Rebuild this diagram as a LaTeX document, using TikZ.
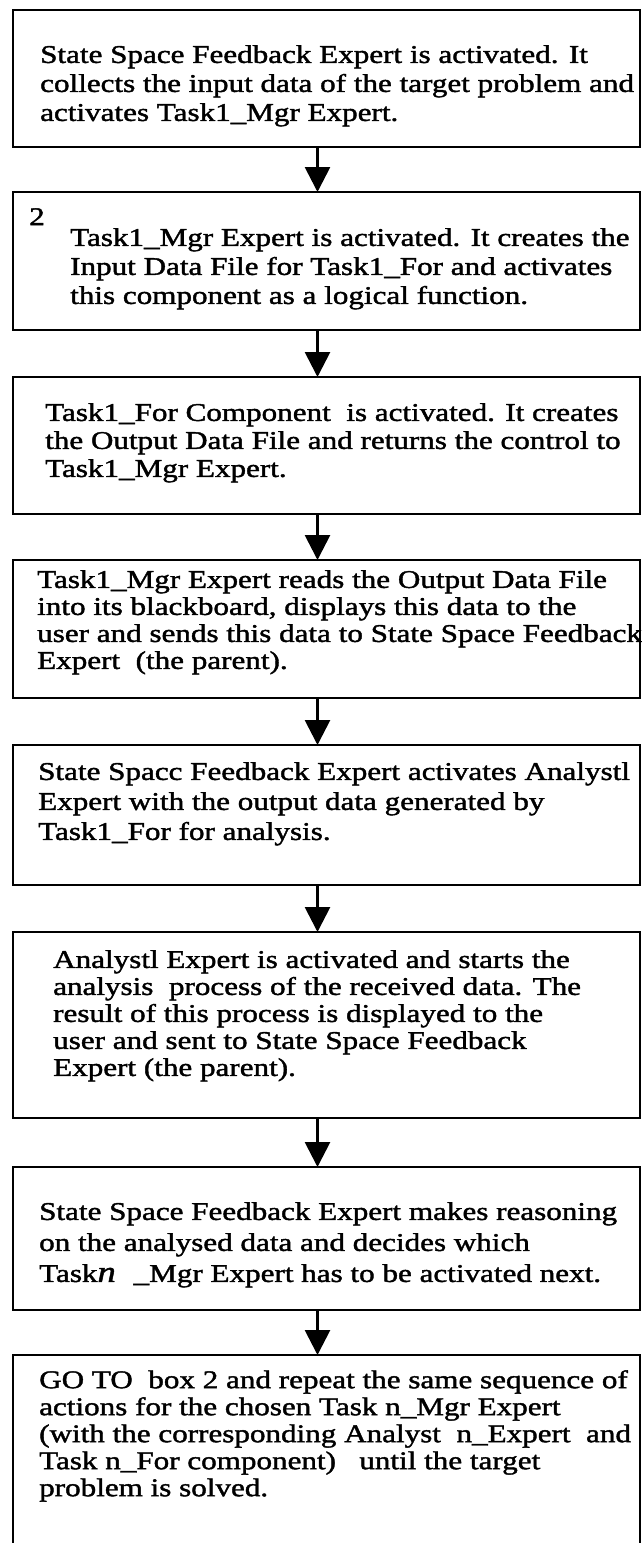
\documentclass[tikz,border=0pt]{standalone}
\usepackage{fontspec}
\setmainfont{Liberation Serif}[FakeStretch=1.22,FakeBold=1.6]
\usetikzlibrary{positioning,arrows.meta}

\tikzset{
  stage/.style={draw, line width=2.8pt, minimum width=627pt, inner sep=0pt, outer sep=0pt},
  say/.style={anchor=north west, inner sep=0pt, align=left, font=\fontsize{25.5}{#1}\selectfont},
  say/.default=28,
  flow/.style={line width=2.8pt, -{Triangle[width=25pt,length=25pt]}},
}

\begin{document}
\begin{tikzpicture}[x=1pt,y=-1pt]
    \useasboundingbox (0,0) rectangle (642,1543);
    \clip (0,0) rectangle (642,1543);
    % the eight stages, top to bottom
    \node[stage,minimum height=137pt,anchor=north west] (b1) at (13,10) {};
    \node[stage,minimum height=138pt,below=45pt of b1] (b2) {};
    \node[stage,minimum height=137pt,below=47pt of b2] (b3) {};
    \node[stage,minimum height=138pt,below=46pt of b3] (b4) {};
    \node[stage,minimum height=140pt,below=47pt of b4] (b5) {};
    \node[stage,minimum height=186pt,below=47pt of b5] (b6) {};
    \node[stage,minimum height=143pt,below=49pt of b6] (b7) {};
    \node[stage,minimum height=200pt,below=45pt of b7] (b8) {};
    % texts
    \node[say=29,below right=35pt and 27pt of b1.north west] (t1) {State Space Feedback Expert is activated. It\\
        collects the input data of the target problem and\\
        activates Task1\_Mgr Expert.};
    \node[say,below right=16pt and 16pt of b2.north west] (n2) {2};
    \node[say=29,below right=36pt and 57pt of b2.north west] (t2) {Task1\_Mgr Expert is activated. It creates the\\
        Input Data File for Task1\_For and activates\\
        this component as a logical function.};
    \node[say,below right=26pt and 32pt of b3.north west] (t3) {Task1\_For Component\ \ is activated. It creates\\
        the Output Data File and returns the control to\\
        Task1\_Mgr Expert.};
    \node[say=27,below right=10pt and 24pt of b4.north west] (t4) {Task1\_Mgr Expert reads the Output Data File\\
        into its blackboard, displays this data to the\\
        user and sends this data to State Space Feedback\\
        Expert\ \ (the parent).};
    \node[say=30,below right=17pt and 25pt of b5.north west] (t5) {State Spacc Feedback Expert activates Analystl\\
        Expert with the output data generated by\\
        Task1\_For for analysis.};
    \node[say=27,below right=18pt and 40pt of b6.north west] (t6) {Analystl Expert is activated and starts the\\
        analysis\ \ process of the received data. The\\
        result of this process is displayed to the\\
        user and sent to State Space Feedback\\
        Expert (the parent).};
    \node[say=31,below right=35pt and 26pt of b7.north west] (t7) {State Space Feedback Expert makes reasoning\\
        on the analysed data and decides which\\
        Task{\fontsize{30}{31}\selectfont\itshape n}\hspace{0.7em}\_Mgr Expert has to be activated next.};
    \node[say=27,below right=15pt and 26pt of b8.north west] (t8) {GO TO\ \ box 2 and repeat the same sequence of\\
        actions for the chosen Task n\_Mgr Expert\\
        (with the corresponding Analyst\ \ n\_Expert\ \ and\\
        Task n\_For component)\ \ \ until the target\\
        problem is solved.};
    % arrows
    \draw[flow] ([xshift=-9pt]b1.south) -- ([xshift=-9pt]b2.north);
    \draw[flow] ([xshift=-9pt]b2.south) -- ([xshift=-9pt]b3.north);
    \draw[flow] ([xshift=-9pt]b3.south) -- ([xshift=-9pt]b4.north);
    \draw[flow] ([xshift=-9pt]b4.south) -- ([xshift=-9pt]b5.north);
    \draw[flow] ([xshift=-9pt]b5.south) -- ([xshift=-9pt]b6.north);
    \draw[flow] ([xshift=-9pt]b6.south) -- ([xshift=-9pt]b7.north);
    \draw[flow] ([xshift=-9pt]b7.south) -- ([xshift=-9pt]b8.north);
\end{tikzpicture}
\end{document}
